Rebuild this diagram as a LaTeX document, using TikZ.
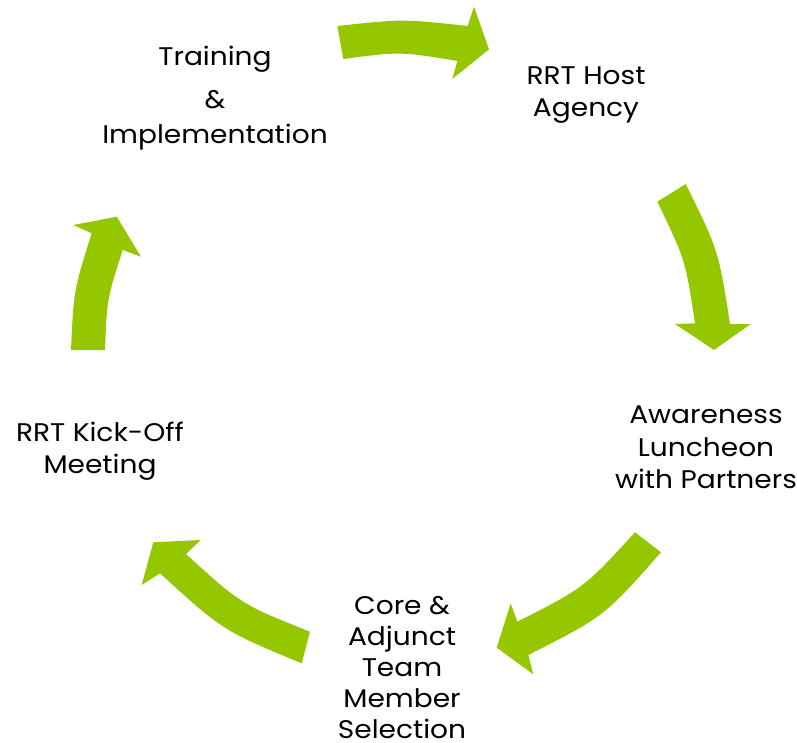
\documentclass[tikz,border=0pt]{standalone}
\usepackage{fontspec}
\setmainfont{Poppins}[FakeStretch=1.1]
\definecolor{arrowgreen}{RGB}{149,199,0}
\tikzset{
  cyclearrow/.style={fill=arrowgreen, draw=none},
  steplabel/.style={anchor=base, inner sep=0pt, font=\fontsize{25.5}{31.8}\selectfont, text=black}
}
\newcommand{\steplines}[1]{\begin{tabular}[t]{@{}c@{}}#1\end{tabular}}
\begin{document}
\begin{tikzpicture}[x=1pt,y=-1pt]
\useasboundingbox (0,0) rectangle (797,743);
% arrow 1 (top)
\fill[cyclearrow] (337.3,26) -- (343.3,59) .. controls (400,51.5) .. (457.3,61)
  -- (452.3,79) -- (489,49.3) -- (474,6.7) -- (467.7,26)
  .. controls (402.5,18.9) .. cycle;
% arrow 2 (right)
\fill[cyclearrow] (685.7,184) -- (657.3,201.7) .. controls (685.3,259.7) .. (695,323.3)
  -- (675,324) -- (714,350) -- (750.7,324) -- (730,324)
  .. controls (718.6,250.7) .. cycle;
% arrow 3 (bottom right)
\fill[cyclearrow] (635,532.3) -- (661,552.3) .. controls (604.5,616.3) .. (528.3,655)
  -- (533.3,674.3) -- (496.7,647.7) -- (510.7,603.3) -- (517.3,621.7)
  .. controls (584.3,587.7) .. cycle;
% arrow 4 (bottom left)
\fill[cyclearrow] (301.7,663.3) -- (310,631.7) .. controls (240.9,604.1) .. (186,554)
  -- (200.7,540) -- (153.3,542.3) -- (141.7,585) -- (160,573.3)
  .. controls (223,630.7) .. cycle;
% arrow 5 (left)
\fill[cyclearrow] (71,350) -- (105,350) .. controls (107,298.8) .. (122.7,250)
  -- (141,256.7) -- (116.7,216.7) -- (73.3,225) -- (91.7,233.3)
  .. controls (73.7,290.3) .. cycle;
% labels (positions are first-line baselines)
\node[steplabel] (training) at (215,65.5) {\steplines{Training\\[11.5pt]\&\\[3pt]Implementation}};
\node[steplabel] (host) at (586,84.3) {\steplines{RRT Host\\Agency}};
\node[steplabel] (lunch) at (706,423.3) {\steplines{Awareness\\[1pt]Luncheon\\[1pt]with Partners}};
\node[steplabel] (core) at (402,614.5) {\steplines{Core \&\\[-0.8pt]Adjunct\\[-0.8pt]Team\\[-0.8pt]Member\\[-0.8pt]Selection}};
\node[steplabel] (kick) at (100,441.7) {\steplines{RRT Kick-Off\\Meeting}};
\end{tikzpicture}
\end{document}
